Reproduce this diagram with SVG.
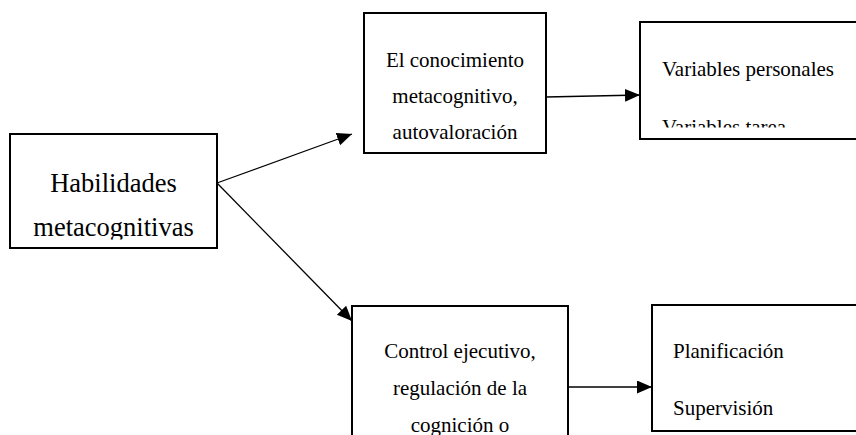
<svg xmlns="http://www.w3.org/2000/svg" width="856" height="435" viewBox="0 0 856 435">
<style>
.box{fill:#fff;stroke:#000;stroke-width:2}
.t{font-family:"Liberation Serif","Times New Roman",serif;font-size:21px;fill:#000}
.big{font-size:26.5px}
.c{text-anchor:middle}
.con{stroke:#000;stroke-width:1.3;fill:none;marker-end:url(#ah)}
</style>
<defs>
<marker id="ah" markerUnits="userSpaceOnUse" markerWidth="16" markerHeight="14" refX="15" refY="6.5" orient="auto">
<path d="M0,0 L15,6.5 L0,13 Z" fill="#000"/>
</marker>
<clipPath id="c1"><rect x="10" y="134" width="207" height="105.5"/></clipPath>
<clipPath id="c3"><rect x="640" y="22" width="220" height="105.5"/></clipPath>
</defs>
<g id="connectors">
<line class="con" x1="217" y1="183" x2="352" y2="134"/>
<line class="con" x1="217" y1="183" x2="352" y2="321"/>
<line class="con" x1="546" y1="97" x2="640" y2="95"/>
<line class="con" x1="568" y1="387" x2="652" y2="387"/>
</g>
<g id="habilidades">
<rect class="box" x="10" y="134" width="207" height="114"/>
<g clip-path="url(#c1)">
<text class="t big c" x="113.5" y="192">Habilidades</text>
<text class="t big c" x="113.5" y="236">metacognitivas</text>
</g>
</g>
<g id="conocimiento">
<rect class="box" x="364" y="13" width="182" height="140"/>
<text class="t c" x="455" y="67">El conocimiento</text>
<text class="t c" x="455" y="103">metacognitivo,</text>
<text class="t c" x="455" y="139">autovaloración</text>
</g>
<g id="variables">
<rect class="box" x="640" y="22" width="230" height="117"/>
<g clip-path="url(#c3)">
<text class="t" x="662" y="76">Variables personales</text>
<text class="t" x="662" y="134">Variables tarea</text>
</g>
</g>
<g id="control">
<rect class="box" x="352" y="306" width="216" height="200"/>
<text class="t c" x="460" y="358">Control ejecutivo,</text>
<text class="t c" x="460" y="395">regulación de la</text>
<text class="t c" x="460" y="432">cognición o</text>
</g>
<g id="planificacion">
<rect class="box" x="652" y="305" width="220" height="126"/>
<text class="t" x="673" y="358">Planificación</text>
<text class="t" x="673" y="415">Supervisión</text>
</g>
</svg>
